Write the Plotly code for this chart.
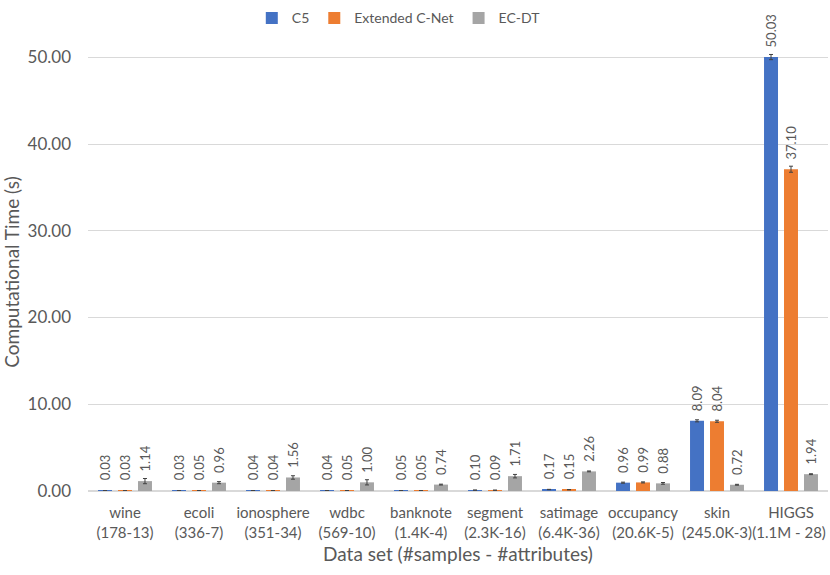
import plotly.graph_objects as go

# data sets and sizes
datasets = ["wine", "ecoli", "ionosphere", "wdbc", "banknote", "segment",
            "satimage", "occupancy", "skin", "HIGGS"]
sizes = ["(178-13)", "(336-7)", "(351-34)", "(569-10)", "(1.4K-4)", "(2.3K-16)",
         "(6.4K-36)", "(20.6K-5)", "(245.0K-3)", "(1.1M - 28)\u00a0"]

# computational time (s)
c5 = [0.03, 0.03, 0.04, 0.04, 0.05, 0.10, 0.17, 0.96, 8.09, 50.03]
ext_cnet = [0.03, 0.05, 0.04, 0.05, 0.05, 0.09, 0.15, 0.99, 8.04, 37.10]
ec_dt = [1.14, 0.96, 1.56, 1.00, 0.74, 1.71, 2.26, 0.88, 0.72, 1.94]

# error bars (std), estimated
c5_err = [0.0, 0.0, 0.0, 0.0, 0.0, 0.01, 0.02, 0.06, 0.12, 0.3]
ext_err = [0.0, 0.0, 0.0, 0.0, 0.0, 0.01, 0.02, 0.06, 0.12, 0.35]
ecdt_err = [0.3, 0.12, 0.2, 0.3, 0.05, 0.2, 0.05, 0.1, 0.05, 0.05]

categories = [f"{d}<br>{s}" for d, s in zip(datasets, sizes)]

FONT = "Lato"
TEXT_COLOR = "#595959"
PAD = "\u00a0\u00a0"  # keeps value labels off the error bars

series = [
    ("C5", c5, c5_err, "#4472C4"),
    ("Extended C-Net", ext_cnet, ext_err, "#ED7D31"),
    ("EC-DT", ec_dt, ecdt_err, "#A5A5A5"),
]

fig = go.Figure()
for name, vals, errs, color in series:
    fig.add_trace(go.Bar(
        name=name,
        x=categories,
        y=vals,
        marker=dict(color=color, line=dict(width=0)),
        error_y=dict(type="data", array=errs, color="#404040", thickness=1, width=2),
        text=[f"{PAD}{v:.2f}" for v in vals],
        textposition="outside",
        textangle=-90,
        constraintext="none",
        cliponaxis=False,
        textfont=dict(family=FONT, size=13, color=TEXT_COLOR),
    ))

fig.update_layout(
    width=830,
    height=575,
    barmode="group",
    bargap=0.19,
    bargroupgap=0.3,
    plot_bgcolor="white",
    paper_bgcolor="white",
    font=dict(family=FONT, color=TEXT_COLOR),
    margin=dict(l=88, r=2, t=49, b=84),
    legend=dict(
        orientation="h",
        x=0.42, xanchor="center",
        y=1.079, yanchor="middle",
        font=dict(family=FONT, size=14, color=TEXT_COLOR),
        itemwidth=30,
        traceorder="normal",
    ),
    xaxis=dict(
        automargin=False,
        tickangle=0,
        tickfont=dict(family=FONT, size=15, color=TEXT_COLOR),
        ticklabelstandoff=8,
        title=dict(text="Data set (#samples - #attributes)",
                   font=dict(family=FONT, size=19, color=TEXT_COLOR), standoff=8),
        showline=True, linecolor="#D9D9D9", linewidth=1,
        ticks="",
    ),
    yaxis=dict(
        automargin=False,
        range=[0, 50.5],
        tickvals=[0, 10, 20, 30, 40, 50],
        tickformat=".2f",
        tickfont=dict(family=FONT, size=17, color=TEXT_COLOR),
        ticklabelstandoff=16,
        title=dict(text="Computational Time (s)",
                   font=dict(family=FONT, size=19, color=TEXT_COLOR), standoff=6),
        gridcolor="#D9D9D9",
        zeroline=True, zerolinecolor="#D9D9D9",
        showline=False,
        ticks="",
    ),
)

# page body has a default 8px margin; drop it so the chart fills the window
fig.write_html("out.html", config={"displayModeBar": False},
               post_script="document.body.style.margin = '0px';")
